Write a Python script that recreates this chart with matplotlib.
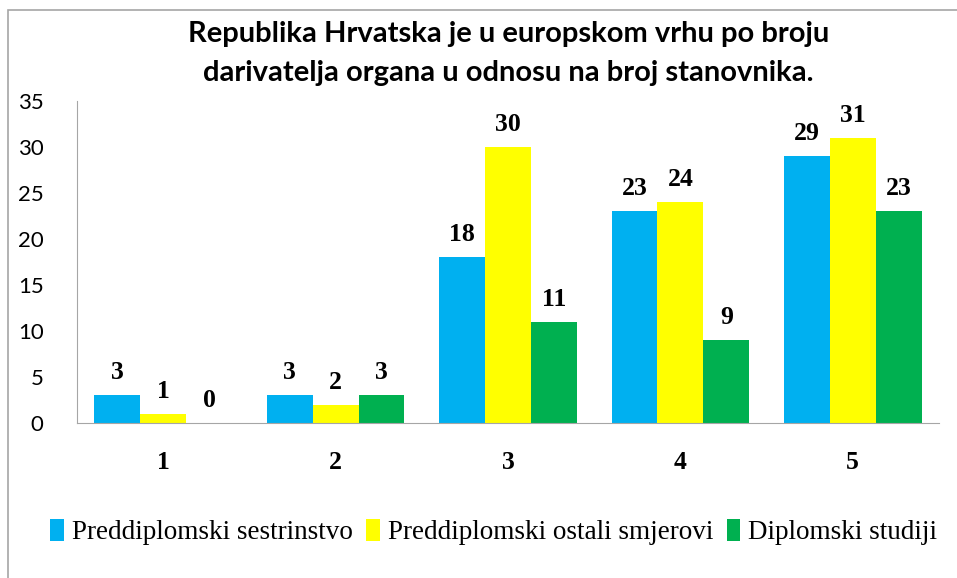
import numpy as np
import matplotlib.pyplot as plt
from matplotlib.patches import Rectangle

categories = ["1", "2", "3", "4", "5"]
sestrinstvo = [3, 3, 18, 23, 29]
ostali = [1, 2, 30, 24, 31]
diplomski = [0, 3, 11, 9, 23]
series_names = ["Preddiplomski sestrinstvo", "Preddiplomski ostali smjerovi", "Diplomski studiji"]
colors = ["#00B0F0", "#FFFF00", "#00B050"]

fig = plt.figure(figsize=(9.57, 5.78), dpi=100)
ax = fig.add_axes([77/957, 1 - 423/578, (939-77)/957, (423-101)/578])

x = np.arange(len(categories))
w = 0.266
for i, (vals, name, c) in enumerate(zip([sestrinstvo, ostali, diplomski], series_names, colors)):
    bars = ax.bar(x + (i - 1) * w, vals, w, color=c, label=name)
    for b, v in zip(bars, vals):
        ax.text(b.get_x() + b.get_width() / 2, v + 1.2, str(v), ha="center", va="bottom",
                fontsize=18.5, fontweight="bold", family="Liberation Serif")

ax.set_xlim(-0.5, 4.5)
ax.set_ylim(0, 35)
ax.set_yticks(range(0, 36, 5))
ax.set_xticks(x)
ax.set_xticklabels(categories, fontsize=18.5, fontweight="bold", family="Liberation Serif")
for t in ax.get_yticklabels():
    t.set_fontsize(16)
    t.set_family("Lato")
ax.tick_params(axis="both", length=0)
ax.tick_params(axis="y", pad=24)
ax.tick_params(axis="x", pad=20)
for s in ["top", "right"]:
    ax.spines[s].set_visible(False)
for s in ["left", "bottom"]:
    ax.spines[s].set_color("#A6A6A6")

fig.text(0.531, 1 - 34/578, "Republika Hrvatska je u europskom vrhu po broju",
         ha="center", va="center", fontsize=21, fontweight="bold", family="Lato")
fig.text(0.531, 1 - 73/578, "darivatelja organa u odnosu na broj stanovnika.",
         ha="center", va="center", fontsize=21, fontweight="bold", family="Lato")

fig.legend(loc="center", bbox_to_anchor=(0.516, 1 - 532/578), ncol=3, frameon=False,
           prop={"family": "Liberation Serif", "size": 19.5}, handlelength=0.5, handleheight=0.9,
           handletextpad=0.3, columnspacing=0.5)

fig.patches.append(Rectangle((8/957, -0.1), 1.2, 1 - 10/578 + 0.1, transform=fig.transFigure,
                             fill=False, edgecolor="#A6A6A6", linewidth=1.2))

fig.savefig("out.png", dpi=100)
